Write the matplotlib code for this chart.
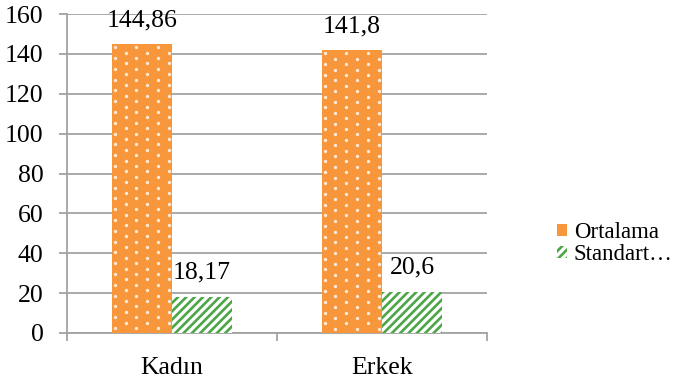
import matplotlib
matplotlib.use("Agg")
import matplotlib.pyplot as plt
import numpy as np

# Cinsiyete göre ortalama ve standart sapma
categories = ["Kadın", "Erkek"]
ortalama = [144.86, 141.8]
standart = [18.17, 20.6]
ortalama_labels = ["144,86", "141,8"]
standart_labels = ["18,17", "20,6"]
series_names = ["Ortalama", "Standart…"]

plt.rcParams["font.family"] = ["Liberation Serif", "DejaVu Serif"]
plt.rcParams["font.size"] = 18.5
plt.rcParams["hatch.linewidth"] = 1.9

orange = "#F7963A"
green = "#4DA646"
grid = "#A3A3A3"

fig = plt.figure(figsize=(6.74, 3.81), dpi=100)
ax = fig.add_axes([0.0994, 0.126, 0.623, 0.837])

x = np.arange(len(categories))
w = 0.287

b1 = ax.bar(x - w / 2, ortalama, w, color=orange, linewidth=0,
            label=series_names[0], zorder=3)
b2 = ax.bar(x + w / 2, standart, w, color="white", edgecolor=green,
            linewidth=0, hatch="////", label=series_names[1], zorder=3)

ax.set_xlim(-0.5, 1.5)
ax.set_ylim(0, 160)

# beyaz nokta deseni (piksel uzayında, sütunlara kırpılmış)
fig.canvas.draw()
for bar in b1:
    (x0, y0), (x1, y1) = ax.transData.transform(
        [(bar.get_x(), 0), (bar.get_x() + bar.get_width(), bar.get_height())])
    px, py = [], []
    for i, yy in enumerate(np.arange(y1 - 3, y0, -5.4)):
        start = x0 + 3 + (10.8 if i % 2 else 0)
        for xx in np.arange(start, x1, 21.6):
            px.append(xx)
            py.append(yy)
    dots = ax.scatter(px, py, s=6, marker="o", color="white", alpha=0.8,
                      linewidths=0, transform=None, zorder=4)
    dots.set_clip_path(bar)

for bar, txt in zip(list(b1) + list(b2), ortalama_labels + standart_labels):
    ax.annotate(txt, (bar.get_x() + bar.get_width() / 2, bar.get_height()),
                textcoords="offset points", xytext=(0, 13), ha="center",
                va="baseline")

ax.set_yticks(np.arange(0, 161, 20))
ax.set_xticks(x)
ax.set_xticklabels(categories)
ax.set_xticks([-0.5, 0.5, 1.5], minor=True)
ax.tick_params(axis="x", which="major", length=0, pad=17)
ax.tick_params(axis="x", which="minor", length=6, width=1.3, color=grid)
ax.tick_params(axis="y", length=6, width=1.3, color=grid, pad=11)

ax.grid(axis="y", color=grid, linewidth=1.3, zorder=0)
for side in ["top", "right"]:
    ax.spines[side].set_visible(False)
for side in ["left", "bottom"]:
    ax.spines[side].set_color(grid)
    ax.spines[side].set_linewidth(1.3)

ax.legend(loc="center left", bbox_to_anchor=(1.117, 0.28), frameon=False,
          handlelength=0.45, handleheight=0.45, handletextpad=0.3,
          labelspacing=0.05, fontsize=16.5)

fig.savefig("out.png", dpi=100)
